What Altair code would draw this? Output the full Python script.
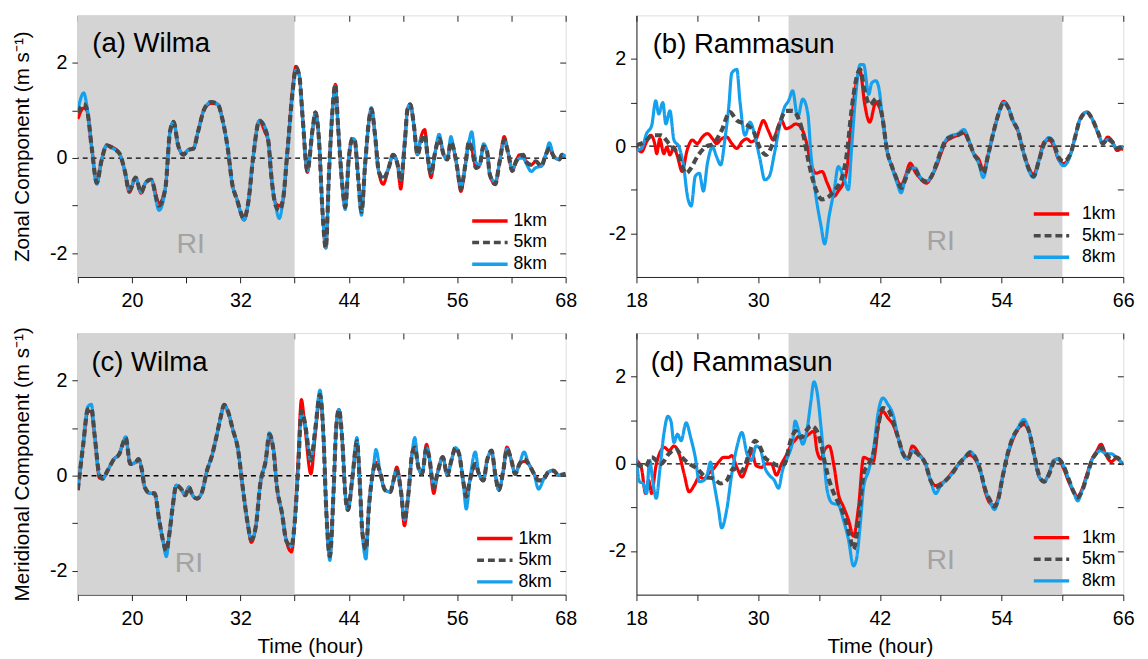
import altair as alt
import pandas as pd

FONT = "Liberation Sans"
SERIES = ["1km", "5km", "8km"]
COLORS = ["#ff0000", "#4a4a4a", "#14a0ec"]
DASHES = [[1, 0], [7, 4], [1, 0]]
DRAW_ORDER = ["1km", "8km", "5km"]
WIDTHS = {"1km": 3.2, "5km": 4.2, "8km": 3.2}

# ---------------- (a) Wilma, zonal ----------------
A_hours = [14.0, 14.65, 15.0, 15.55, 16.1, 16.6, 17.2, 17.9, 18.6, 19.2,
           19.7, 20.4, 21.0, 21.5, 22.1, 23.0, 23.7, 24.2, 24.6, 25.1,
           25.7, 26.2, 26.8, 27.3, 28.0, 28.75, 29.5, 30.0, 30.6, 31.1,
           31.6, 32.4, 32.9, 33.4, 34.1, 34.7, 35.1, 35.4, 35.9, 36.3,
           36.7, 37.2, 37.8, 38.15, 38.5, 38.9, 39.4, 40.0, 40.3, 40.7,
           41.1, 41.45, 41.8, 42.2, 42.5, 42.8, 43.3, 43.6, 44.0, 44.4,
           44.65, 45.0, 45.4, 45.8, 46.25, 46.5, 46.9, 47.3, 47.8, 48.4,
           48.9, 49.4, 49.74, 50.2, 50.5, 50.8, 51.2, 51.6, 52.0, 52.4,
           52.7, 53.1, 53.5, 54.0, 54.5, 54.9, 55.3, 55.6, 56.0, 56.4,
           56.9, 57.3, 57.6, 58.1, 58.5, 58.9, 59.3, 59.6, 60.2, 60.7,
           61.2, 61.6, 62.1, 62.5, 62.9, 63.3, 63.6, 64.2, 64.7, 65.3,
           65.8, 66.2, 66.7, 67.3, 67.6, 68.0]
A_1km = [0.82, 1.05, 1.0, 0.2, -0.52, -0.07, 0.27, 0.22, 0.1, -0.27,
         -0.72, -0.41, -0.74, -0.52, -0.45, -0.95, -0.62, 0.55, 0.76, 0.27,
         0.07, 0.17, 0.2, 0.55, 1.03, 1.15, 1.13, 0.82, 0.2, -0.55,
         -0.86, -1.3, -0.89, 0.0, 0.79, 0.55, 0.34, -0.34, -0.95, -1.0,
         -0.89, 0.14, 1.5, 1.93, 1.75, 0.82, -0.3, 0.62, 0.96, 0.37,
         -1.17, -1.89, -0.34, 1.03, 1.55, 0.69, -0.62, -1.03, 0.0, 0.41,
         0.38, -0.34, -1.13, -0.14, 0.82, 1.03, 0.48, -0.27, -0.55, -0.21,
         0.07, -0.14, -0.65, 0.34, 1.03, 1.13, 0.69, 0.07, 0.45, 0.6,
         0.07, -0.41, 0.07, 0.41, 0.07, -0.03, 0.34, 0.2, -0.21, -0.7,
         -0.14, 0.34, 0.2, -0.21, -0.14, 0.24, 0.14, -0.34, -0.55, -0.07,
         0.45, 0.14, -0.27, -0.07, 0.07, 0.07, -0.07, -0.14, -0.07, -0.17,
         0.07, 0.2, 0.03, -0.03, 0.07, 0.01]
A_5km = [0.95, 1.13, 1.03, 0.2, -0.52, -0.07, 0.27, 0.2, 0.1, -0.27,
         -0.69, -0.41, -0.72, -0.52, -0.45, -1.0, -0.62, 0.55, 0.76, 0.27,
         0.07, 0.17, 0.2, 0.55, 1.03, 1.18, 1.13, 0.82, 0.2, -0.55,
         -0.86, -1.27, -0.89, 0.0, 0.79, 0.62, 0.34, -0.34, -1.0, -1.1,
         -0.89, 0.14, 1.44, 1.89, 1.75, 0.82, -0.27, 0.62, 0.96, 0.37,
         -1.17, -1.89, -0.34, 1.03, 1.55, 0.69, -0.62, -1.03, 0.0, 0.41,
         0.38, -0.34, -1.13, -0.14, 0.82, 1.03, 0.48, -0.27, -0.45, -0.21,
         0.07, -0.14, -0.48, 0.34, 1.03, 1.13, 0.69, 0.07, 0.34, 0.5,
         0.07, -0.34, 0.07, 0.41, 0.07, -0.03, 0.34, 0.2, -0.21, -0.65,
         -0.14, 0.34, 0.2, -0.21, -0.14, 0.24, 0.14, -0.34, -0.55, -0.07,
         0.38, 0.14, -0.27, -0.07, 0.03, 0.07, -0.07, -0.14, -0.07, -0.17,
         0.07, 0.2, 0.03, -0.03, 0.07, 0.01]
A_8km = [1.0, 1.37, 1.1, 0.2, -0.55, -0.07, 0.27, 0.2, 0.1, -0.27,
         -0.69, -0.41, -0.72, -0.52, -0.45, -1.1, -0.62, 0.55, 0.76, 0.27,
         0.07, 0.17, 0.2, 0.55, 1.03, 1.18, 1.13, 0.82, 0.2, -0.55,
         -0.86, -1.3, -0.89, 0.0, 0.79, 0.66, 0.34, -0.34, -1.0, -1.27,
         -0.89, 0.14, 1.4, 1.85, 1.75, 0.82, -0.27, 0.62, 0.96, 0.37,
         -1.17, -1.89, -0.34, 1.03, 1.5, 0.69, -0.62, -1.08, 0.0, 0.41,
         0.38, -0.34, -1.2, -0.14, 0.82, 1.06, 0.48, -0.27, -0.4, -0.21,
         0.07, -0.14, -0.45, 0.34, 1.03, 1.13, 0.69, 0.07, 0.42, 0.4,
         0.07, -0.3, 0.07, 0.5, 0.07, -0.03, 0.45, 0.2, -0.21, -0.6,
         -0.14, 0.34, 0.55, -0.1, -0.14, 0.3, 0.14, -0.34, -0.5, -0.07,
         0.38, 0.14, -0.22, -0.1, 0.0, 0.0, -0.1, -0.28, -0.2, -0.17,
         0.07, 0.32, 0.03, -0.03, 0.07, 0.05]

# ---------------- (b) Rammasun, zonal ----------------
B_1km_hours = [18.0, 18.5, 19.0, 19.4, 19.8, 20.0, 20.3, 20.7, 21.0, 21.3,
               21.7, 22.05, 22.5, 23.0, 23.5, 24.0, 24.5, 25.0, 25.5, 25.9,
               26.4, 26.9, 27.4, 27.9, 28.4, 28.9, 29.3, 29.8, 30.2, 30.5,
               31.0, 31.5, 31.85, 32.3, 32.75, 33.2, 33.7, 34.2, 34.7, 35.2,
               35.7, 36.3, 36.8, 37.5, 37.9, 38.4, 38.75, 39.2, 39.7, 40.05,
               40.5, 41.0, 41.6, 41.9, 42.25]
B_1km_head = [-0.02, -0.13, 0.1, 0.25, 0.06, -0.17, 0.17, -0.17, -0.02, -0.2,
              -0.02, -0.24, -0.58, -0.09, 0.14, 0.06, 0.21, 0.29, 0.17, 0.06,
              0.17, 0.21, 0.06, -0.05, 0.1, 0.17, 0.1, 0.17, 0.44, 0.59,
              0.36, 0.14, 0.36, 0.59, 0.4, 0.44, 0.51, 0.44, 0.14, -0.39,
              -0.62, -0.58, -0.84, -1.15, -1.03, -0.84, -0.54, 0.59, 1.49, 1.72,
              0.97, 0.55, 1.0, 0.92, 0.66]
B_5km_hours = [18.0, 18.8, 19.6, 20.4, 21.2, 22.05, 22.9, 23.35, 24.0, 24.8,
               25.6, 26.4, 27.2, 27.9, 28.7, 29.5, 30.2, 30.8, 31.5, 32.1,
               32.75, 33.4, 34.05, 34.5, 35.0, 35.7, 36.3, 37.0, 37.6, 38.3,
               38.75, 39.2, 39.7, 40.05, 40.5, 41.0, 41.7, 42.25]
B_5km_head = [0.02, 0.1, 0.25, 0.25, 0.06, -0.17, -0.62, -0.51, -0.24, -0.02,
              0.06, 0.36, 0.78, 0.59, 0.51, 0.36, -0.05, -0.2, 0.1, 0.51,
              0.81, 0.81, 0.59, 0.21, -0.39, -1.0, -1.22, -1.15, -1.0, -0.69,
              -0.17, 0.81, 1.57, 1.76, 1.27, 0.95, 1.1, 0.66]
B_8km_hours = [18.0, 18.5, 19.0, 19.5, 19.9, 20.2, 20.6, 20.9, 21.3, 21.7,
               22.2, 22.7, 23.0, 23.4, 23.8, 24.2, 24.6, 25.0, 25.5, 25.9,
               26.3, 26.75, 27.1, 27.4, 27.9, 28.2, 28.7, 29.2, 29.7, 30.2,
               30.65, 31.1, 31.6, 32.1, 32.6, 33.0, 33.4, 33.9, 34.4, 34.9,
               35.2, 35.7, 36.2, 36.55, 37.0, 37.5, 37.9, 38.4, 38.9, 39.2,
               39.6, 40.05, 40.4, 40.9, 41.2, 41.6, 41.9, 42.25]
B_8km_head = [-0.09, -0.05, 0.29, 0.47, 1.04, 0.74, 1.0, 0.51, 0.81, 0.14,
              -0.02, -0.54, -1.11, -1.37, -0.69, -0.62, -1.03, -0.39, -0.02, -0.24,
              -0.43, 0.21, 0.89, 1.68, 1.76, 1.04, 0.25, 0.55, 0.21, -0.32,
              -0.77, -0.69, -0.17, 0.44, 0.89, 1.04, 1.27, 0.66, 1.08, 0.74,
              -0.17, -1.15, -1.83, -2.24, -1.6, -1.0, -0.47, -0.69, -1.0, -0.09,
              1.12, 1.87, 1.87, 1.19, 1.45, 1.5, 1.34, 0.66]
B_tail_hours = [42.7, 43.2, 43.7, 44.1, 44.5, 45.0, 45.5, 45.95, 46.6, 47.1,
                47.6, 48.05, 48.5, 49.0, 49.65, 50.3, 50.8, 51.25, 51.75, 52.2,
                52.7, 53.2, 53.7, 54.2, 54.65, 55.1, 55.6, 56.1, 56.6, 57.15,
                57.7, 58.2, 58.7, 59.15, 59.6, 60.1, 60.8, 61.25, 61.7, 62.4,
                63.0, 63.5, 64.0, 64.45, 64.9, 65.4, 65.9, 66.0]
B_1km_tail = [-0.09, -0.47, -0.77, -0.9, -0.7, -0.39, -0.6, -0.73, -0.85, -0.69,
              -0.45, -0.15, 0.1, 0.18, 0.25, 0.3, 0.1, -0.17, -0.3, -0.55,
              -0.17, 0.32, 0.74, 1.03, 0.89, 0.59, 0.36, -0.09, -0.45, -0.65,
              -0.3, 0.1, 0.14, 0.0, -0.3, -0.4, -0.17, 0.21, 0.6, 0.78,
              0.59, 0.3, 0.06, 0.21, 0.12, -0.1, -0.05, -0.1]
B_5km_tail = [-0.09, -0.47, -0.77, -0.96, -0.77, -0.51, -0.54, -0.73, -0.81, -0.69,
              -0.39, -0.09, 0.14, 0.21, 0.25, 0.32, 0.1, -0.17, -0.35, -0.62,
              -0.17, 0.32, 0.74, 1.0, 0.89, 0.59, 0.36, -0.09, -0.47, -0.69,
              -0.32, 0.06, 0.17, 0.06, -0.24, -0.35, -0.17, 0.21, 0.59, 0.78,
              0.59, 0.32, 0.06, 0.17, 0.1, -0.05, -0.02, 0.0]
B_8km_tail = [-0.09, -0.5, -0.85, -1.07, -0.75, -0.5, -0.5, -0.7, -0.8, -0.69,
              -0.39, -0.09, 0.14, 0.24, 0.28, 0.38, 0.12, -0.17, -0.4, -0.72,
              -0.2, 0.3, 0.74, 1.0, 0.89, 0.6, 0.38, -0.09, -0.5, -0.72,
              -0.32, 0.06, 0.2, 0.06, -0.28, -0.45, -0.2, 0.21, 0.59, 0.78,
              0.6, 0.32, 0.06, 0.15, 0.08, -0.05, -0.02, 0.0]

# ---------------- (c) Wilma, meridional ----------------
C_hours = [14.0, 14.6, 15.1, 15.5, 15.85, 16.4, 16.75, 17.3, 18.0, 18.6,
           18.9, 19.3, 19.8, 20.4, 20.7, 21.1, 21.4, 22.0, 22.5, 23.0,
           23.4, 23.8, 24.1, 24.5, 24.9, 25.4, 25.9, 26.3, 26.7, 27.2,
           27.75, 28.3, 28.8, 29.4, 29.8, 30.2, 30.6, 31.2, 31.7, 32.25,
           32.8, 33.2, 33.7, 34.2, 34.8, 35.2, 35.7, 36.0, 36.6, 37.1,
           37.65, 38.0, 38.4, 38.75, 39.1, 39.8, 40.3, 40.8, 41.2, 41.5,
           41.9, 42.3, 42.6, 42.9, 43.3, 43.6, 43.9, 44.4, 44.9, 45.2,
           45.5, 45.9, 46.2, 46.7, 47.0, 47.5, 48.0, 48.6, 48.95, 49.3,
           49.8, 50.15, 50.6, 51.0, 51.3, 51.7, 52.1, 52.6, 52.9, 53.4,
           53.8, 54.4, 54.9, 55.35, 55.8, 56.2, 56.65, 57.0, 57.4, 58.0,
           58.4, 58.9, 59.3, 59.8, 60.2, 60.6, 61.1, 61.5, 62.0, 62.4,
           62.9, 63.4, 63.9, 64.5, 65.0, 65.6, 66.1, 66.65, 67.2, 68.0]
C_1km = [-0.3, 0.66, 1.35, 1.35, 0.87, -0.05, -0.06, 0.11, 0.35, 0.46,
         0.63, 0.78, 0.25, 0.28, 0.35, 0.11, -0.24, -0.37, -0.37, -0.93,
         -1.34, -1.58, -1.27, -0.65, -0.2, -0.27, -0.41, -0.24, -0.41, -0.48,
         -0.34, 0.11, 0.39, 0.87, 1.22, 1.49, 1.36, 0.94, 0.59, -0.24,
         -1.0, -1.4, -1.07, -0.17, 0.32, 0.8, 0.52, -0.17, -0.79, -1.38,
         -1.6, -1.0, 0.4, 1.6, 1.1, 0.04, 0.9, 1.65, 0.8, -0.72,
         -1.69, -0.37, 1.01, 1.39, 0.66, -0.37, -0.72, -0.03, 0.73, -0.1,
         -1.2, -1.55, -0.72, 0.11, 0.28, 0.04, -0.3, -0.34, -0.1, 0.18,
         -0.37, -1.05, -0.37, 0.46, 0.59, 0.18, 0.04, 0.66, 0.39, -0.37,
         0.04, 0.39, 0.01, 0.32, 0.55, 0.46, -0.1, -0.4, -0.1, 0.25,
         0.04, -0.1, 0.32, 0.5, 0.04, -0.3, 0.11, 0.6, 0.32, 0.04,
         0.25, 0.3, 0.25, 0.04, -0.1, -0.06, 0.08, 0.11, 0.01, 0.04]
C_5km = [-0.3, 0.66, 1.39, 1.42, 0.87, 0.01, -0.06, 0.11, 0.35, 0.46,
         0.63, 0.8, 0.25, 0.28, 0.35, 0.11, -0.24, -0.37, -0.37, -0.93,
         -1.34, -1.58, -1.27, -0.65, -0.2, -0.27, -0.41, -0.24, -0.41, -0.48,
         -0.34, 0.11, 0.39, 0.87, 1.22, 1.49, 1.36, 0.94, 0.59, -0.24,
         -1.0, -1.34, -1.07, -0.17, 0.32, 0.87, 0.46, -0.17, -0.79, -1.38,
         -1.48, -1.0, 0.18, 1.36, 1.15, 0.32, 1.01, 1.7, 0.8, -0.72,
         -1.69, -0.37, 1.01, 1.39, 0.66, -0.37, -0.72, -0.03, 0.73, -0.1,
         -1.2, -1.55, -0.72, 0.11, 0.28, 0.04, -0.3, -0.34, -0.1, 0.11,
         -0.37, -0.93, -0.37, 0.46, 0.59, 0.18, 0.04, 0.59, 0.39, -0.24,
         0.04, 0.39, 0.01, 0.32, 0.59, 0.46, -0.1, -0.44, -0.1, 0.25,
         0.04, -0.1, 0.32, 0.53, 0.04, -0.3, 0.11, 0.56, 0.32, 0.04,
         0.25, 0.35, 0.25, 0.04, -0.1, -0.06, 0.08, 0.11, 0.01, 0.04]
C_8km = [-0.3, 0.7, 1.45, 1.5, 0.87, 0.01, -0.06, 0.11, 0.35, 0.46,
         0.63, 0.82, 0.25, 0.28, 0.35, 0.11, -0.24, -0.37, -0.37, -0.93,
         -1.34, -1.7, -1.27, -0.65, -0.2, -0.27, -0.41, -0.24, -0.41, -0.48,
         -0.34, 0.11, 0.39, 0.87, 1.22, 1.49, 1.36, 0.94, 0.59, -0.24,
         -1.0, -1.34, -1.07, -0.17, 0.32, 0.9, 0.46, -0.17, -0.79, -1.38,
         -1.48, -1.0, 0.18, 1.3, 1.15, 0.32, 1.01, 1.8, 0.8, -0.72,
         -1.78, -0.37, 1.01, 1.39, 0.66, -0.37, -0.72, -0.03, 0.8, -0.1,
         -1.2, -1.75, -0.72, 0.11, 0.55, 0.04, -0.3, -0.34, -0.1, 0.11,
         -0.37, -0.93, -0.37, 0.46, 0.8, 0.18, 0.04, 0.59, 0.39, -0.24,
         0.04, 0.39, 0.01, 0.32, 0.59, 0.46, -0.1, -0.7, -0.1, 0.5,
         0.04, -0.1, 0.32, 0.53, 0.04, -0.3, 0.11, 0.56, 0.32, 0.04,
         0.25, 0.5, 0.25, 0.04, -0.28, -0.06, 0.08, 0.11, 0.01, 0.04]

# ---------------- (d) Rammasun, meridional ----------------
D_1km_hours = [18.0, 18.5, 18.9, 19.2, 19.5, 19.9, 20.4, 20.75, 21.2, 21.7,
               22.2, 22.7, 23.2, 23.7, 24.2, 24.65, 25.1, 25.6, 26.1, 26.6,
               27.1, 27.4, 27.9, 28.4, 28.9, 29.35, 29.8, 30.3, 30.8, 31.3,
               31.8, 32.3, 32.75, 33.2, 33.7, 34.05, 34.5, 35.0, 35.5, 35.8,
               36.2, 36.5, 37.0, 37.5, 37.9, 38.4, 38.9, 39.4, 39.9, 40.4,
               40.9, 41.35, 41.6, 41.85, 42.3, 42.8, 43.3]
D_1km_head = [0.08, -0.11, -0.68, -0.38, -0.68, -0.08, 0.3, 0.38, 0.3, 0.41,
              0.23, -0.23, -0.64, -0.49, -0.3, -0.34, -0.23, -0.11, 0.04, 0.15,
              0.15, 0.19, -0.08, -0.3, -0.04, 0.3, -0.04, -0.08, 0.0, 0.0,
              -0.26, 0.0, 0.19, 0.41, 0.56, 0.64, 0.6, 0.68, 0.75, 0.3,
              0.11, 0.3, 0.41, -0.08, -0.68, -0.98, -1.28, -1.66, -0.98, 0.15,
              0.1, 0.05, 0.38, 0.9, 1.2, 1.05, 0.9]
D_5km_hours = [18.0, 18.8, 19.5, 20.4, 21.2, 21.9, 22.5, 23.2, 24.0, 24.8,
               25.6, 26.3, 26.9, 27.55, 28.2, 28.7, 29.2, 29.7, 30.2, 30.65,
               31.3, 31.95, 32.6, 33.2, 33.7, 34.2, 34.7, 35.2, 35.7, 36.2,
               36.6, 37.1, 37.6, 38.1, 38.6, 39.1, 39.4, 39.9, 40.4, 40.9,
               41.35, 41.85, 42.3, 42.8, 43.3]
D_5km_head = [0.0, -0.08, 0.15, 0.0, 0.23, 0.34, 0.15, 0.0, -0.11, -0.3,
              -0.34, -0.45, -0.38, -0.11, -0.19, -0.04, 0.3, 0.53, 0.38, 0.15,
              0.04, -0.04, 0.0, 0.53, 0.75, 0.6, 0.75, 0.87, 0.79, 0.45,
              0.0, -0.45, -0.75, -0.98, -1.28, -1.73, -1.96, -1.28, -0.23, 0.0,
              0.23, 0.9, 1.28, 1.24, 0.98]
D_8km_hours = [18.0, 18.3, 18.65, 19.0, 19.3, 19.6, 19.95, 20.3, 20.7, 21.1,
               21.4, 21.7, 22.05, 22.4, 22.9, 23.35, 23.8, 24.2, 24.65, 25.0,
               25.3, 25.6, 26.1, 26.4, 26.9, 27.4, 27.9, 28.4, 28.9, 29.35,
               29.8, 30.2, 30.65, 31.1, 31.6, 32.0, 32.4, 32.9, 33.4, 33.65,
               34.0, 34.4, 34.85, 35.2, 35.5, 35.8, 36.2, 36.5, 36.8, 37.3,
               37.9, 38.4, 38.9, 39.4, 39.7, 40.05, 40.4, 40.9, 41.35, 41.85,
               42.3, 42.8, 43.3]
D_8km_head = [0.15, -0.41, -0.45, -0.68, 0.08, -0.38, -0.79, -0.15, 0.68, 1.09,
              0.98, 0.49, 0.68, 0.53, 0.94, 0.6, 0.15, -0.41, -0.38, -0.23,
              0.04, -0.38, -1.05, -1.47, -1.05, -0.23, 0.38, 0.72, 0.23, 0.08,
              0.41, 0.34, -0.08, -0.26, -0.38, -0.56, -0.15, 0.15, 0.53, 0.98,
              0.75, 0.45, 0.83, 1.43, 1.88, 1.66, 0.83, 0.08, -0.6, -0.9,
              -0.94, -1.28, -1.73, -2.34, -2.18, -1.43, -0.53, -0.15, 0.3, 1.2,
              1.51, 1.36, 1.13]
D_tail_hours = [43.8, 44.3, 44.75, 45.2, 45.9, 46.5, 47.0, 47.5, 48.0, 48.5,
                49.1, 49.8, 50.4, 50.9, 51.4, 51.9, 52.4, 52.85, 53.3, 53.65,
                54.1, 54.6, 55.1, 55.6, 56.2, 56.7, 57.2, 57.7, 58.2, 58.7,
                59.15, 59.6, 60.1, 60.6, 61.1, 61.5, 61.9, 62.4, 62.9, 63.4,
                63.8, 64.3, 64.8, 65.3, 66.0]
D_1km_tail = [0.6, 0.23, 0.11, 0.41, 0.22, 0.0, -0.38, -0.5, -0.45, -0.38,
              -0.2, 0.0, 0.15, 0.2, 0.1, -0.15, -0.65, -0.9, -0.95, -0.8,
              -0.3, 0.2, 0.55, 0.79, 0.9, 0.75, 0.23, -0.3, -0.4, -0.2,
              0.08, 0.11, -0.1, -0.4, -0.64, -0.75, -0.6, -0.25, 0.1, 0.3,
              0.45, 0.2, 0.05, 0.12, -0.02]
D_5km_tail = [0.6, 0.23, 0.11, 0.3, 0.19, 0.0, -0.38, -0.53, -0.49, -0.38,
              -0.23, 0.0, 0.15, 0.26, 0.15, -0.15, -0.6, -0.83, -0.98, -0.83,
              -0.3, 0.23, 0.6, 0.79, 0.94, 0.75, 0.23, -0.26, -0.41, -0.23,
              0.04, 0.11, -0.04, -0.34, -0.64, -0.77, -0.64, -0.3, 0.08, 0.26,
              0.38, 0.23, 0.11, 0.15, 0.0]
D_8km_tail = [0.6, 0.2, 0.11, 0.3, 0.19, 0.0, -0.38, -0.68, -0.5, -0.38,
              -0.23, 0.0, 0.15, 0.28, 0.15, -0.15, -0.6, -0.85, -1.05, -0.85,
              -0.3, 0.23, 0.6, 0.82, 1.02, 0.75, 0.2, -0.3, -0.41, -0.2,
              0.08, 0.11, -0.04, -0.34, -0.64, -0.85, -0.64, -0.3, 0.08, 0.26,
              0.3, 0.23, 0.23, 0.15, 0.0]

# ---------------- panel settings ----------------
WILMA_X = [14, 68]
RAMM_X = [18, 66]
WILMA_XTICKS = [14, 20, 26, 32, 38, 44, 50, 56, 62, 68]
RAMM_XTICKS = [18, 24, 30, 36, 42, 48, 54, 60, 66]
WILMA_Y = [-2.5, 3]
RAMM_Y = [-3, 3]
Y_TICKS = [-2, -1, 0, 1, 2]
WILMA_RI = [14, 38]
RAMM_RI = [33, 60]
PANEL_LABELS = ["(a) Wilma", "(b) Rammasun", "(c) Wilma", "(d) Rammasun"]
LABEL_POS = [(15.6, 2.23), (19.6, 2.13), (15.5, 2.2), (19.4, 2.12)]
RI_POS = [(26.5, -2.0), (48.0, -2.37), (26.3, -2.03), (48.0, -2.41)]


def frame(parts):
    out = []
    for s, h, v in parts:
        out.append(pd.DataFrame({"hour": h, "value": v, "series": s}))
    return pd.concat(out, ignore_index=True)


def panel(df, x_dom, y_dom, x_ticks, y_ticks, x_first, ri, label, label_pos,
          ri_pos, legend_xy, legend_gap, width, height, y_title=None,
          x_title=None, x_title_x=None):
    xs = alt.Scale(domain=x_dom, nice=False, zero=False)
    ys = alt.Scale(domain=y_dom, nice=False, zero=False)
    xa = dict(orient="bottom", values=x_ticks,
              labelExpr=f"(datum.value - {x_first}) % 12 == 0 ? datum.label : ''",
              tickSize=6, labelPadding=8, labelFontSize=20, labelFont=FONT,
              labelColor="black", labelFlush=False, labelOverlap=False,
              domainColor="#222222", tickColor="#222222", grid=False,
              minExtent=34, maxExtent=34)
    if x_title:
        xa.update(title=x_title, titleFont=FONT, titleFontSize=21,
                  titleFontWeight="normal", titleColor="black", titlePadding=8)
        if x_title_x is not None:
            xa["titleX"] = x_title_x
    else:
        xa["title"] = None
    ya = dict(orient="left", values=y_ticks,
              labelExpr="datum.value % 2 == 0 ? replace(datum.label, '\u2212', '-') : ''",
              tickSize=6, labelPadding=5, labelFontSize=20, labelFont=FONT,
              labelColor="black", labelFlush=False, labelOverlap=False,
              domainColor="#222222", tickColor="#222222", grid=False,
              minExtent=30, maxExtent=30)
    if y_title:
        ya.update(title=y_title, titleFont=FONT, titleFontSize=21,
                  titleFontWeight="normal", titleColor="black", titlePadding=16)
    else:
        ya["title"] = None

    top_axis = alt.Axis(orient="top", values=x_ticks, labels=False, domain=False,
                        tickSize=6, offset=-6, tickColor="#222222", grid=False,
                        title=None, minExtent=0, maxExtent=0)
    right_axis = alt.Axis(orient="right", values=y_ticks, labels=False, domain=False,
                          tickSize=6, offset=-6, tickColor="#222222", grid=False,
                          title=None, minExtent=0, maxExtent=0)

    legend = alt.Legend(orient="none", legendX=legend_xy[0], legendY=legend_xy[1],
                        title=None, symbolType="M-2,0H2", symbolSize=324,
                        symbolStrokeWidth=3.5, labelFont=FONT, labelFontSize=18,
                        labelColor="black", labelOffset=legend_gap, rowPadding=2,
                        padding=0)
    color = alt.Color("series:N", scale=alt.Scale(domain=SERIES, range=COLORS),
                      legend=legend)
    dash = alt.StrokeDash("series:N", scale=alt.Scale(domain=SERIES, range=DASHES),
                          legend=legend)

    ri_df = pd.DataFrame({"start": [ri[0]], "end": [ri[1]]})
    bg = alt.Chart(ri_df).mark_rect(color="#d4d4d4").encode(
        x=alt.X("start:Q", scale=xs, axis=None), x2="end:Q")
    zero = alt.Chart(ri_df).mark_rule(color="black", strokeDash=[5, 4],
                                      strokeWidth=1.3).encode(
        y=alt.YDatum(0, scale=ys, axis=None))

    layers = [bg, zero]
    for i, s in enumerate(DRAW_ORDER):
        sub = df[df["series"] == s]
        layers.append(
            alt.Chart(sub).mark_line(strokeWidth=WIDTHS[s], clip=True,
                                     interpolate="monotone").encode(
                x=alt.X("hour:Q", scale=xs,
                        axis=alt.Axis(**xa) if i == 0 else None),
                y=alt.Y("value:Q", scale=ys,
                        axis=alt.Axis(**ya) if i == 0 else None),
                color=color, strokeDash=dash)
        )

    lab_df = pd.DataFrame({"hour": [label_pos[0]], "value": [label_pos[1]],
                           "text": [label]})
    layers.append(alt.Chart(lab_df).mark_text(
        font=FONT, fontSize=28, align="left", baseline="alphabetic",
        color="black").encode(
        x=alt.X("hour:Q", scale=xs, axis=None),
        y=alt.Y("value:Q", scale=ys, axis=None), text="text:N"))
    ri_txt = pd.DataFrame({"hour": [ri_pos[0]], "value": [ri_pos[1]],
                           "text": ["RI"]})
    layers.append(alt.Chart(ri_txt).mark_text(
        font=FONT, fontSize=29, align="center", baseline="alphabetic",
        color="#a3a3a3").encode(
        x=alt.X("hour:Q", scale=xs, axis=None),
        y=alt.Y("value:Q", scale=ys, axis=None), text="text:N"))

    mirror = alt.Chart(df[df["series"] == "5km"]).mark_line(opacity=0).encode(
        x=alt.X("hour:Q", scale=xs, axis=top_axis),
        y=alt.Y("value:Q", scale=ys, axis=right_axis))
    layers.append(mirror)

    return alt.layer(*layers).resolve_axis(x="independent", y="independent") \
        .properties(width=width, height=height)


df_a = frame([("1km", A_hours, A_1km), ("5km", A_hours, A_5km), ("8km", A_hours, A_8km)])
df_b = frame([("1km", B_1km_hours + B_tail_hours, B_1km_head + B_1km_tail),
              ("5km", B_5km_hours + B_tail_hours, B_5km_head + B_5km_tail),
              ("8km", B_8km_hours + B_tail_hours, B_8km_head + B_8km_tail)])
df_c = frame([("1km", C_hours, C_1km), ("5km", C_hours, C_5km), ("8km", C_hours, C_8km)])
df_d = frame([("1km", D_1km_hours + D_tail_hours, D_1km_head + D_1km_tail),
              ("5km", D_5km_hours + D_tail_hours, D_5km_head + D_5km_tail),
              ("8km", D_8km_hours + D_tail_hours, D_8km_head + D_8km_tail)])

W_L, W_R, H = 496, 495, 266

pa = panel(df_a, WILMA_X, WILMA_Y, WILMA_XTICKS, Y_TICKS, 20, WILMA_RI,
           PANEL_LABELS[0], LABEL_POS[0], RI_POS[0], (408, 198), 13, W_L, H,
           y_title="Zonal Component (m s\u207b\u00b9)")
pb = panel(df_b, RAMM_X, RAMM_Y, RAMM_XTICKS, Y_TICKS, 18, RAMM_RI,
           PANEL_LABELS[1], LABEL_POS[1], RI_POS[1], (411, 191), 20, W_R, H)
pc = panel(df_c, WILMA_X, WILMA_Y, WILMA_XTICKS, Y_TICKS, 20, WILMA_RI,
           PANEL_LABELS[2], LABEL_POS[2], RI_POS[2], (413, 198), 13, W_L, H,
           y_title="Meridional Component (m s\u207b\u00b9)", x_title="Time (hour)",
           x_title_x=236)
pd_ = panel(df_d, RAMM_X, RAMM_Y, RAMM_XTICKS, Y_TICKS, 18, RAMM_RI,
            PANEL_LABELS[3], LABEL_POS[3], RI_POS[3], (411, 197), 20, W_R, H,
            x_title="Time (hour)")

row1 = alt.hconcat(pa, pb, spacing=29).resolve_scale(color="independent",
                                                     strokeDash="independent")
row2 = alt.hconcat(pc, pd_, spacing=29).resolve_scale(color="independent",
                                                      strokeDash="independent")
chart = alt.vconcat(row1, row2, spacing=15).resolve_scale(
    color="independent", strokeDash="independent").properties(
    padding={"left": 3, "top": 1, "right": 5, "bottom": 0})
chart = chart.configure_view(stroke="#222222", strokeWidth=1).configure(font=FONT)

chart.save("out.html", embed_options={"renderer": "svg", "actions": False})
